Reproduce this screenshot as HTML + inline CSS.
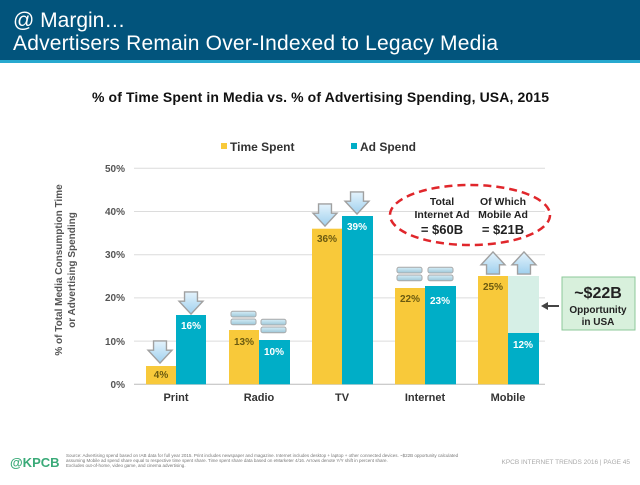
<!DOCTYPE html>
<html><head><meta charset="utf-8"><style>
body{margin:0;width:640px;height:480px;overflow:hidden;background:#fff;font-family:"Liberation Sans",Arial,sans-serif}
</style></head><body>
<svg width="640" height="480" xmlns="http://www.w3.org/2000/svg" font-family="Liberation Sans, Arial, sans-serif">
<defs>
<linearGradient id="ab" x1="0" y1="0" x2="0" y2="1"><stop offset="0" stop-color="#e4f3fc"/><stop offset="1" stop-color="#9fd0ee"/></linearGradient>
<linearGradient id="eq" x1="0" y1="0" x2="0" y2="1"><stop offset="0" stop-color="#d6eef8"/><stop offset="1" stop-color="#9cc6d8"/></linearGradient>
<symbol id="dn" viewBox="0 0 28 26"><polygon points="7,1 21,1 21,11 27,11 14,25 1,11 7,11" fill="url(#ab)" stroke="#a0a0a0" stroke-width="1.5"/></symbol>
<symbol id="up" viewBox="0 0 28 26"><polygon points="7,25 21,25 21,15 27,15 14,1 1,15 7,15" fill="url(#ab)" stroke="#a0a0a0" stroke-width="1.5"/></symbol>
<symbol id="eqs" viewBox="0 0 28 16"><rect x="1" y="1" width="26" height="6" rx="2" fill="url(#eq)" stroke="#a8a8a8"/><rect x="1" y="9" width="26" height="6" rx="2" fill="url(#eq)" stroke="#a8a8a8"/></symbol>
</defs>
<rect x="0" y="0" width="640" height="60" fill="#02547c"/>
<rect x="0" y="60" width="640" height="3" fill="#27a9cf"/>
<text x="13" y="27" font-size="21" fill="#fff">@ Margin…</text>
<text x="13" y="50" font-size="21" fill="#fff" textLength="485">Advertisers Remain Over-Indexed to Legacy Media</text>
<text x="92" y="102" font-size="14" font-weight="bold" fill="#111" textLength="457">% of Time Spent in Media vs. % of Advertising Spending, USA, 2015</text>
<rect x="221" y="143" width="6" height="6" fill="#f8c93a"/>
<text x="230" y="151" font-size="12" font-weight="bold" fill="#333">Time Spent</text>
<rect x="351" y="143" width="6" height="6" fill="#00aec7"/>
<text x="360" y="151" font-size="12" font-weight="bold" fill="#333">Ad Spend</text>
<g stroke="#dcdcdc" stroke-width="1">
<line x1="134" y1="168.3" x2="545" y2="168.3"/><line x1="134" y1="211.5" x2="545" y2="211.5"/><line x1="134" y1="254.7" x2="545" y2="254.7"/><line x1="134" y1="297.9" x2="545" y2="297.9"/><line x1="134" y1="341.1" x2="545" y2="341.1"/><line x1="134" y1="384.3" x2="545" y2="384.3" stroke="#bbb"/>
</g>
<g font-size="10" font-weight="bold" fill="#555" text-anchor="end">
<text x="125" y="172">50%</text><text x="125" y="215">40%</text><text x="125" y="258">30%</text><text x="125" y="301">20%</text><text x="125" y="345">10%</text><text x="125" y="388">0%</text>
</g>
<g font-size="10" font-weight="bold" fill="#555" text-anchor="middle" transform="rotate(-90)">
<text x="-270" y="62">% of Total Media Consumption Time</text>
<text x="-270" y="75">or Advertising Spending</text>
</g>
<rect x="508" y="276" width="31" height="57" fill="#d6efe6"/>
<g fill="#f8c93a">
<rect x="146" y="366" width="30" height="18.3"/><rect x="229" y="330" width="30" height="54.3"/><rect x="312" y="228.7" width="30" height="155.6"/><rect x="395" y="288" width="30" height="96.3"/><rect x="478" y="276" width="30" height="108.3"/>
</g>
<g fill="#00aec7">
<rect x="176" y="315" width="30" height="69.3"/><rect x="259" y="340" width="31" height="44.3"/><rect x="342" y="216" width="31" height="168.3"/><rect x="425" y="286" width="31" height="98.3"/><rect x="508" y="333" width="31" height="51.3"/>
</g>
<g font-size="10" font-weight="bold" text-anchor="middle">
<text x="161" y="378" fill="#6b5a10">4%</text><text x="191" y="329" fill="#fff">16%</text>
<text x="244" y="345" fill="#6b5a10">13%</text><text x="274" y="355" fill="#fff">10%</text>
<text x="327" y="242" fill="#6b5a10">36%</text><text x="357" y="230" fill="#fff">39%</text>
<text x="410" y="302" fill="#6b5a10">22%</text><text x="440" y="304" fill="#fff">23%</text>
<text x="493" y="290" fill="#6b5a10">25%</text><text x="523" y="348" fill="#fff">12%</text>
</g>
<g font-size="11" font-weight="bold" fill="#333" text-anchor="middle">
<text x="176" y="401">Print</text><text x="259" y="401">Radio</text><text x="342" y="401">TV</text><text x="425" y="401">Internet</text><text x="508" y="401">Mobile</text>
</g>
<use href="#dn" x="146" y="340" width="28" height="24"/>
<use href="#dn" x="177" y="291" width="28" height="24"/>
<use href="#dn" x="311" y="203" width="28" height="24"/>
<use href="#dn" x="343" y="191" width="28" height="24"/>
<use href="#eqs" x="230" y="310" width="27" height="16"/>
<use href="#eqs" x="260" y="318" width="27" height="16"/>
<use href="#eqs" x="396" y="266" width="27" height="16"/>
<use href="#eqs" x="427" y="266" width="27" height="16"/>
<use href="#up" x="479" y="251" width="28" height="24"/>
<use href="#up" x="510" y="251" width="28" height="24"/>
<ellipse cx="470" cy="215" rx="80" ry="30" fill="none" stroke="#e0262b" stroke-width="2.5" stroke-dasharray="8,5"/>
<g font-size="10.5" font-weight="bold" fill="#222" text-anchor="middle">
<text x="442" y="205">Total</text><text x="442" y="218">Internet Ad</text>
<text x="503" y="205">Of Which</text><text x="503" y="218">Mobile Ad</text>
<text x="442" y="234" font-size="13">= $60B</text><text x="503" y="234" font-size="13">= $21B</text>
</g>
<rect x="562" y="277" width="73" height="53" fill="#d8f0dc" stroke="#8cc89a"/>
<text x="598" y="298" font-size="16" font-weight="bold" fill="#222" text-anchor="middle">~$22B</text>
<text x="598" y="313" font-size="10" font-weight="bold" fill="#222" text-anchor="middle">Opportunity</text>
<text x="598" y="325" font-size="10" font-weight="bold" fill="#222" text-anchor="middle">in USA</text>
<line x1="546" y1="306" x2="559" y2="306" stroke="#444" stroke-width="2"/>
<polygon points="541,306 548,302 548,310" fill="#444"/>
<text x="10" y="467" font-size="13" font-weight="bold" fill="#3aaa78">@KPCB</text>
<g font-size="4.5" fill="#777">
<text x="66" y="457">Source: Advertising spend based on IAB data for full year 2015. Print includes newspaper and magazine. Internet includes desktop + laptop + other connected devices. ~$22B opportunity calculated</text>
<text x="66" y="462">assuming Mobile ad spend share equal to respective time spent share. Time spent share data based on eMarketer 4/16. Arrows denote Y/Y shift in percent share.</text>
<text x="66" y="467">Excludes out-of-home, video game, and cinema advertising.</text>
</g>
<text x="630" y="464" font-size="6.5" fill="#aaa" text-anchor="end">KPCB INTERNET TRENDS 2016  |  PAGE 45</text>
</svg>
</body></html>
